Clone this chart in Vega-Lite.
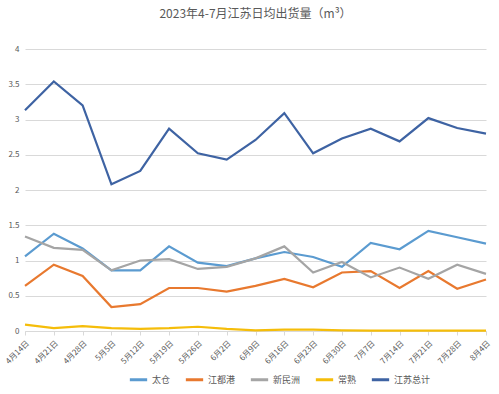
{
  "$schema": "https://vega.github.io/schema/vega-lite/v6.json",
  "width": 461,
  "height": 282,
  "autosize": {"type": "none"},
  "padding": {"left": 25, "top": 49, "right": 13, "bottom": 63},
  "background": "white",
  "config": {
    "view": {"stroke": null},
    "font": "Noto Sans CJK SC"
  },
  "title": {
    "text": "2023年4-7月江苏日均出货量（m³）",
    "fontSize": 12,
    "fontWeight": "normal",
    "color": "#595959",
    "anchor": "middle",
    "frame": "group",
    "offset": 24
  },
  "data": {
    "values": [
      {"date": "4月14日", "series": "太仓", "value": 1.06},
      {"date": "4月21日", "series": "太仓", "value": 1.38},
      {"date": "4月28日", "series": "太仓", "value": 1.17},
      {"date": "5月5日", "series": "太仓", "value": 0.86},
      {"date": "5月12日", "series": "太仓", "value": 0.86},
      {"date": "5月19日", "series": "太仓", "value": 1.2},
      {"date": "5月26日", "series": "太仓", "value": 0.97},
      {"date": "6月2日", "series": "太仓", "value": 0.92},
      {"date": "6月9日", "series": "太仓", "value": 1.03},
      {"date": "6月16日", "series": "太仓", "value": 1.12},
      {"date": "6月23日", "series": "太仓", "value": 1.05},
      {"date": "6月30日", "series": "太仓", "value": 0.91},
      {"date": "7月7日", "series": "太仓", "value": 1.25},
      {"date": "7月14日", "series": "太仓", "value": 1.16},
      {"date": "7月21日", "series": "太仓", "value": 1.42},
      {"date": "7月28日", "series": "太仓", "value": 1.33},
      {"date": "8月4日", "series": "太仓", "value": 1.24},
      {"date": "4月14日", "series": "江都港", "value": 0.64},
      {"date": "4月21日", "series": "江都港", "value": 0.94},
      {"date": "4月28日", "series": "江都港", "value": 0.78},
      {"date": "5月5日", "series": "江都港", "value": 0.34},
      {"date": "5月12日", "series": "江都港", "value": 0.38},
      {"date": "5月19日", "series": "江都港", "value": 0.61},
      {"date": "5月26日", "series": "江都港", "value": 0.61},
      {"date": "6月2日", "series": "江都港", "value": 0.56},
      {"date": "6月9日", "series": "江都港", "value": 0.64},
      {"date": "6月16日", "series": "江都港", "value": 0.74},
      {"date": "6月23日", "series": "江都港", "value": 0.62},
      {"date": "6月30日", "series": "江都港", "value": 0.83},
      {"date": "7月7日", "series": "江都港", "value": 0.85},
      {"date": "7月14日", "series": "江都港", "value": 0.61},
      {"date": "7月21日", "series": "江都港", "value": 0.85},
      {"date": "7月28日", "series": "江都港", "value": 0.6},
      {"date": "8月4日", "series": "江都港", "value": 0.73},
      {"date": "4月14日", "series": "新民洲", "value": 1.34},
      {"date": "4月21日", "series": "新民洲", "value": 1.18},
      {"date": "4月28日", "series": "新民洲", "value": 1.15},
      {"date": "5月5日", "series": "新民洲", "value": 0.86},
      {"date": "5月12日", "series": "新民洲", "value": 1.0},
      {"date": "5月19日", "series": "新民洲", "value": 1.02},
      {"date": "5月26日", "series": "新民洲", "value": 0.88},
      {"date": "6月2日", "series": "新民洲", "value": 0.91},
      {"date": "6月9日", "series": "新民洲", "value": 1.03},
      {"date": "6月16日", "series": "新民洲", "value": 1.2},
      {"date": "6月23日", "series": "新民洲", "value": 0.83},
      {"date": "6月30日", "series": "新民洲", "value": 0.98},
      {"date": "7月7日", "series": "新民洲", "value": 0.76},
      {"date": "7月14日", "series": "新民洲", "value": 0.9},
      {"date": "7月21日", "series": "新民洲", "value": 0.74},
      {"date": "7月28日", "series": "新民洲", "value": 0.94},
      {"date": "8月4日", "series": "新民洲", "value": 0.81},
      {"date": "4月14日", "series": "常熟", "value": 0.09},
      {"date": "4月21日", "series": "常熟", "value": 0.04},
      {"date": "4月28日", "series": "常熟", "value": 0.07},
      {"date": "5月5日", "series": "常熟", "value": 0.04},
      {"date": "5月12日", "series": "常熟", "value": 0.03},
      {"date": "5月19日", "series": "常熟", "value": 0.04},
      {"date": "5月26日", "series": "常熟", "value": 0.06},
      {"date": "6月2日", "series": "常熟", "value": 0.03},
      {"date": "6月9日", "series": "常熟", "value": 0.01},
      {"date": "6月16日", "series": "常熟", "value": 0.02},
      {"date": "6月23日", "series": "常熟", "value": 0.02},
      {"date": "6月30日", "series": "常熟", "value": 0.01},
      {"date": "7月7日", "series": "常熟", "value": 0.005},
      {"date": "7月14日", "series": "常熟", "value": 0.005},
      {"date": "7月21日", "series": "常熟", "value": 0.005},
      {"date": "7月28日", "series": "常熟", "value": 0.005},
      {"date": "8月4日", "series": "常熟", "value": 0.005},
      {"date": "4月14日", "series": "江苏总计", "value": 3.13},
      {"date": "4月21日", "series": "江苏总计", "value": 3.54},
      {"date": "4月28日", "series": "江苏总计", "value": 3.2},
      {"date": "5月5日", "series": "江苏总计", "value": 2.08},
      {"date": "5月12日", "series": "江苏总计", "value": 2.27},
      {"date": "5月19日", "series": "江苏总计", "value": 2.87},
      {"date": "5月26日", "series": "江苏总计", "value": 2.52},
      {"date": "6月2日", "series": "江苏总计", "value": 2.43},
      {"date": "6月9日", "series": "江苏总计", "value": 2.71},
      {"date": "6月16日", "series": "江苏总计", "value": 3.09},
      {"date": "6月23日", "series": "江苏总计", "value": 2.52},
      {"date": "6月30日", "series": "江苏总计", "value": 2.73},
      {"date": "7月7日", "series": "江苏总计", "value": 2.87},
      {"date": "7月14日", "series": "江苏总计", "value": 2.69},
      {"date": "7月21日", "series": "江苏总计", "value": 3.02},
      {"date": "7月28日", "series": "江苏总计", "value": 2.88},
      {"date": "8月4日", "series": "江苏总计", "value": 2.8}
    ]
  },
  "mark": {"type": "line", "strokeWidth": 2.2, "interpolate": "linear"},
  "encoding": {
    "x": {
      "field": "date",
      "type": "ordinal",
      "sort": null,
      "scale": {"type": "point", "padding": 0},
      "axis": {
        "title": null,
        "labelAngle": -45,
        "labelFontSize": 8,
        "labelColor": "#595959",
        "domainColor": "#d9d9d9",
        "tickColor": "#d9d9d9",
        "tickSize": 4,
        "labelPadding": 4,
        "grid": false
      }
    },
    "y": {
      "field": "value",
      "type": "quantitative",
      "scale": {"domain": [0, 4], "nice": false},
      "axis": {
        "title": null,
        "values": [0, 0.5, 1, 1.5, 2, 2.5, 3, 3.5, 4],
        "format": "~g",
        "labelFontSize": 8,
        "labelColor": "#595959",
        "domain": false,
        "ticks": false,
        "labelPadding": 6,
        "gridColor": "#d9d9d9",
        "gridWidth": 1
      }
    },
    "color": {
      "field": "series",
      "type": "nominal",
      "scale": {
        "domain": ["太仓", "江都港", "新民洲", "常熟", "江苏总计"],
        "range": ["#5b9bd0", "#e8792f", "#a5a5a5", "#f5bd0a", "#3e63a3"]
      },
      "legend": {
        "title": null,
        "orient": "none",
        "direction": "horizontal",
        "legendX": 103,
        "legendY": 320,
        "symbolType": "stroke",
        "symbolStrokeWidth": 3,
        "symbolSize": 300,
        "labelFontSize": 9,
        "labelColor": "#595959",
        "columnPadding": 8,
        "labelOffset": 3
      }
    }
  }
}
